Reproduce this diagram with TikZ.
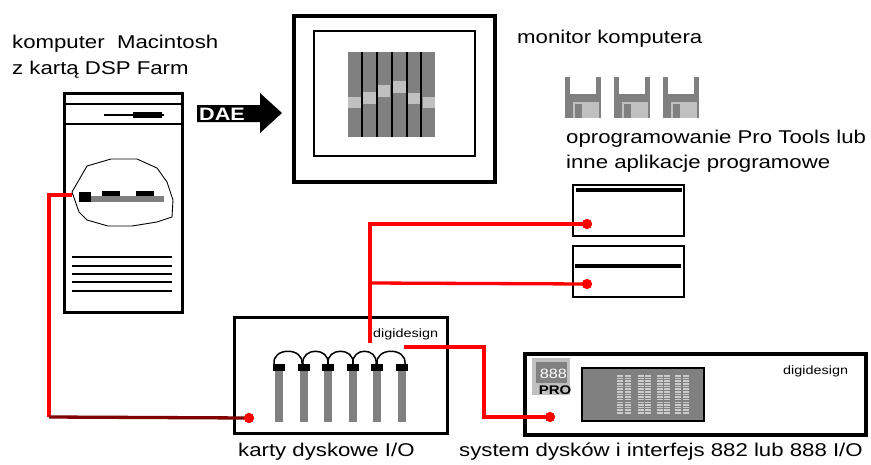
\documentclass[tikz,border=0pt]{standalone}
\usepackage{fontspec}
\newfontfamily\labelfont[FakeStretch=1.2]{Liberation Sans}
\definecolor{wire}{RGB}{255,0,0}
\definecolor{darkwire}{RGB}{128,0,0}
\definecolor{mgray}{RGB}{128,128,128}
\definecolor{lgray}{RGB}{192,192,192}
\definecolor{dashgray}{RGB}{205,205,205}
\tikzset{
  lbl/.style={inner sep=0pt, anchor=base west, font=\labelfont\fontsize{18.5}{22}\selectfont},
  small/.style={inner sep=0pt, font=\labelfont\fontsize{12}{14}\selectfont},
  wireline/.style={draw=wire, line width=3.3pt},
  darkline/.style={draw=darkwire, line width=3.3pt},
  port/.style={circle, fill=wire, inner sep=0pt, minimum size=10pt},
  frame/.style={draw=black, line width=3pt},
}
\begin{document}
\begin{tikzpicture}[x=1pt, y=-1pt]
\useasboundingbox (0,0) rectangle (871,464);

% ---------- Macintosh tower ----------
\draw[frame] (64,93) rectangle (182,312);
\draw[line width=1.8pt] (64,104) -- (182,104);
\draw[line width=2.2pt] (64,124) -- (182,124);
\draw[line width=1.2pt] (104,115) -- (164,115);
\fill (133,112) rectangle (162,118);
% zoom outline around the DSP card
\draw[line width=0.9pt] (87,166) -- (111,159) -- (137,159) -- (157,168) -- (167,182)
  -- (173,200) -- (172,217) -- (157,222) -- (132,226) -- (108,226) -- (87,220)
  -- (79,212) -- (72,192) -- cycle;
\fill[mgray] (91,196) rectangle (164,202);
\fill (79,192) rectangle (91,202);
\fill (102,191) rectangle (120,196);
\fill (136,191) rectangle (154,196);
\foreach \yy in {257,266,274,282,291}
  \draw[line width=1.3pt] (72,\yy) -- (172,\yy);
\coordinate (cardport) at (72,195);

\node[lbl] (mac1) at (12,48) {komputer\ \ Macintosh};
\node[lbl] (mac2) at (12,74) {z kartą DSP Farm};

% ---------- DAE arrow ----------
\fill (197,105) -- (260,105) -- (260,93) -- (282,113) -- (260,133) -- (260,122) -- (197,122) -- cycle;
\node[inner sep=0pt, text=white, font=\labelfont\bfseries\fontsize{18}{20}\selectfont, anchor=base west] (dae) at (199,120.5) {DAE};

% ---------- monitor ----------
\draw[line width=4pt] (294,16) rectangle (495,182);
\draw[line width=2pt] (314,31) rectangle (475,156);
\fill[mgray] (348,52) rectangle (435,137);
\fill[lgray] (348,97) rectangle (361,108);
\fill[lgray] (363,92) rectangle (376,104);
\fill[lgray] (378,85) rectangle (390,97);
\fill[lgray] (393,81) rectangle (406,93);
\fill[lgray] (408,93) rectangle (420,104);
\fill[lgray] (423,97) rectangle (435,108);
\foreach \xx in {362,377,392,407,421}
  \draw[line width=1.5pt] (\xx,52) -- (\xx,137);
\node[lbl] (mon) at (517,43) {monitor komputera};

% ---------- software disks ----------
\foreach \xx in {565,614,663}{
  \fill[mgray] (\xx,77) rectangle ++(36,41);
  \fill[white] (\xx+5,77) rectangle ++(26,17);
  \fill[lgray] (\xx+8,102) rectangle ++(26,16);
  \fill[mgray] (\xx+10,104) rectangle ++(7,14);
}
\node[lbl] (sw1) at (566,143) {oprogramowanie Pro Tools lub};
\node[lbl] (sw2) at (566,168) {inne aplikacje programowe};

% ---------- external drives ----------
\draw[line width=1.5pt] (573,185) rectangle (684,236);
\fill (576,188) rectangle (682,192);
\draw[line width=1.5pt] (573,246) rectangle (684,297);
\fill (575,264) rectangle (681,268);

% ---------- digidesign I/O card ----------
\draw[frame] (234,317) rectangle (447,433);
\node[small, anchor=base west] (dd1) at (373,337) {digidesign};
\foreach \xx in {279,303.5,328,352.5,377,401.5}{
  \fill[mgray] (\xx-4,371) rectangle (\xx+4,422);
  \fill (\xx-6,364) rectangle (\xx+6,371);
}
\foreach \a/\b in {274/302,303/328,328/353,353/376,377/405}
  \draw[line width=1.5pt] (\a,364) .. controls (\a-2,347) and (\b+2,347) .. (\b,364);

% ---------- 888 I/O unit ----------
\draw[line width=3.5pt] (525,354) rectangle (866,435);
\fill[lgray] (532,358) rectangle (570,395);
\fill[mgray] (536,362) rectangle (567,383);
\node[small, text=white, anchor=base east, font=\labelfont\fontsize{13.5}{15}\selectfont] (n888) at (567,378) {888};
\node[small, anchor=base, font=\labelfont\bfseries\fontsize{12.5}{14}\selectfont] (pro) at (555,394) {PRO};
\draw[fill=mgray, line width=1.5pt] (582,368) rectangle (704,421);
\foreach \xx in {617,625,638,645,657,664,675,683}
  \foreach \k in {0,...,14}
    \fill[dashgray] (\xx,375+2.65*\k) rectangle ++(5.5,1.6);
\node[small, anchor=base west] (dd2) at (783,374) {digidesign};

% ---------- ports ----------
\node[port] (pA) at (249,418) {};
\node[port] (pB) at (550,417) {};
\node[port] (pC) at (587,224) {};
\node[port] (pD) at (587,284) {};

% ---------- cabling ----------
\coordinate (j1) at (49,195);
\coordinate (j2) at (49,417);
\coordinate (t1) at (370,224);
\coordinate (t2) at (370,283);
\coordinate (t3) at (370,343);
\coordinate (s1) at (404,347);
\coordinate (s2) at (484,347);
\coordinate (s3) at (484,417);

\draw[wireline] (cardport) -- (j1) -- (j2);
\draw[darkline] (j2) -- (pA.center);
\draw[wireline] (pC.center) -- (t1) -- (t3);
\draw[wireline] (pD.center) -- (t2);
\draw[wireline] (s1) -- (s2) -- (s3) -- (pB.center);
\node[port] at (pA) {};
\node[port] at (pB) {};
\node[port] at (pC) {};
\node[port] at (pD) {};

% ---------- captions ----------
\node[lbl] (cap1) at (238,456) {karty dyskowe I/O};
\node[lbl] (cap2) at (459,456) {system dysków i interfejs 882 lub 888 I/O};
\end{tikzpicture}
\end{document}
